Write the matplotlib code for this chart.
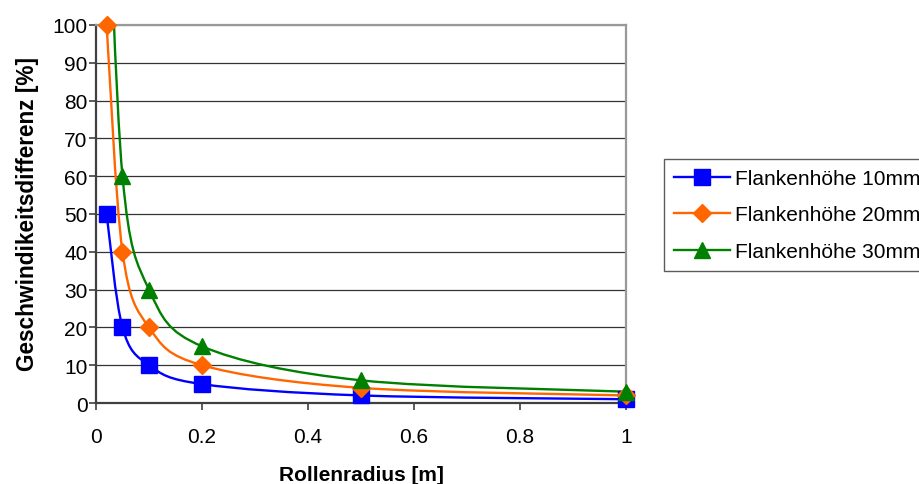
import numpy as np
import matplotlib
matplotlib.use("Agg")
import matplotlib.pyplot as plt
from matplotlib.path import Path
from matplotlib.patches import PathPatch
from matplotlib.lines import Line2D

plt.rcParams['font.family'] = ['Liberation Sans', 'DejaVu Sans']

radius = [0.02, 0.05, 0.1, 0.2, 0.5, 1.0]
flank_10 = [50, 20, 10, 5, 2, 1]
flank_20 = [100, 40, 20, 10, 4, 2]
flank_30 = [150, 60, 30, 15, 6, 3]
series_labels = ["Flankenhöhe 10mm", "Flankenhöhe 20mm", "Flankenhöhe 30mm"]
colors = ["#0000ff", "#ff6600", "#008000"]
markers = ["s", "D", "^"]
marker_sizes = [11, 9.5, 11]
x_ticks = [0, 0.2, 0.4, 0.6, 0.8, 1.0]
x_ticklabels = ["0", "0.2", "0.4", "0.6", "0.8", "1"]
y_ticks = list(range(0, 101, 10))
y_max = 100


def smooth_path(xs, ys):
    """Catmull-Rom style Bezier path through the points (spreadsheet 'smoothed line')."""
    p = np.column_stack([xs, ys]).astype(float)
    n = len(p)
    verts = [p[0]]
    codes = [Path.MOVETO]
    for i in range(n - 1):
        p0 = p[i - 1] if i > 0 else p[i]
        p1 = p[i]
        p2 = p[i + 1]
        p3 = p[i + 2] if i + 2 < n else p[i + 1]
        c1 = p1 + (p2 - p0) / 6.0
        c2 = p2 - (p3 - p1) / 6.0
        verts += [c1, c2, p2]
        codes += [Path.CURVE4] * 3
    return Path(verts, codes)


fig = plt.figure(figsize=(9.2, 4.85), dpi=100)
ax = fig.add_axes([96 / 920, 1 - 404 / 485, 530 / 920, 378 / 485])

handles = []
for ys, c, m, lab, ms in zip([flank_10, flank_20, flank_30], colors, markers,
                             series_labels, marker_sizes):
    patch = PathPatch(smooth_path(radius, ys), facecolor="none", edgecolor=c,
                      lw=1.7, zorder=3)
    ax.add_patch(patch)
    # points above the value range are not shown
    shown = np.ma.masked_greater(np.array(ys, dtype=float), y_max)
    ax.plot(radius, shown, linestyle="none", marker=m, markersize=ms, color=c,
            markeredgecolor=c, zorder=4, clip_on=False)
    handles.append(Line2D([], [], color=c, lw=1.7, marker=m, markersize=ms,
                          markeredgecolor=c, label=lab))

ax.set_xlim(0, 1)
ax.set_ylim(0, y_max)
ax.set_xticks(x_ticks)
ax.set_xticklabels(x_ticklabels)
ax.set_yticks(y_ticks)

for y in y_ticks[1:]:
    ax.axhline(y, color="#333333" if y < y_max else "#999999", lw=0.9, zorder=1)

for side in ["left", "bottom"]:
    ax.spines[side].set_color("#404040")
    ax.spines[side].set_linewidth(1.6)
for side in ["right", "top"]:
    ax.spines[side].set_color("#999999")
    ax.spines[side].set_linewidth(1.6)

ax.tick_params(axis="both", direction="out", length=5, width=1.2,
               color="#404040", labelsize=15)
ax.tick_params(axis="x", pad=12)
ax.tick_params(axis="y", pad=1)

ax.set_xlabel("Rollenradius [m]", fontsize=15, fontweight="bold")
ax.set_ylabel("Geschwindikeitsdifferenz [%]", fontsize=16.3, fontweight="bold")
ax.xaxis.set_label_coords(0.5, -0.163)
ax.yaxis.set_label_coords(-0.108, 0.503)

leg = fig.legend(handles=handles, loc="upper left",
                 bbox_to_anchor=(664 / 920, 1 - 160 / 485),
                 fontsize=15, frameon=True, fancybox=False, edgecolor="#333333",
                 handlelength=2.7, handletextpad=0.25, labelspacing=0.84,
                 borderpad=0.48, borderaxespad=0)
leg.get_frame().set_linewidth(1.0)

fig.savefig("out.png", dpi=100)
